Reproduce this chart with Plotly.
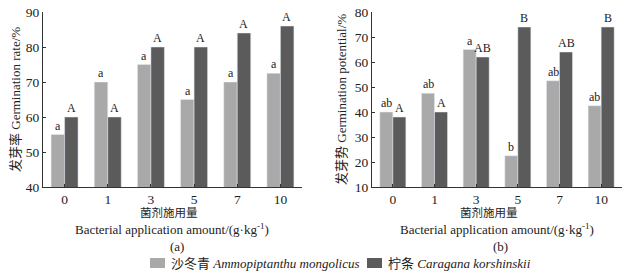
import plotly.graph_objects as go

categories = ["0", "1", "3", "5", "7", "10"]
rate_amm = [55, 70, 75, 65, 70, 72.5]
rate_car = [60, 60, 80, 80, 84, 86]
rate_amm_lbl = ["a", "a", "a", "a", "a", "a"]
rate_car_lbl = ["A", "A", "A", "A", "A", "A"]
pot_amm = [40, 47.5, 65, 22.5, 52.5, 42.5]
pot_car = [38, 40, 62, 74, 64, 74]
pot_amm_lbl = ["ab", "ab", "a", "b", "ab", "ab"]
pot_car_lbl = ["A", "A", "AB", "B", "AB", "B"]

LIGHT = "#a9a9a9"
DARK = "#5b5b5b"
FONT = "Liberation Serif, Times New Roman, Noto Sans CJK SC, serif"
W, H = 638, 275
TOP, BOT = 12, 187

fig = go.Figure()
fig.add_trace(go.Bar(x=categories, y=rate_amm, marker_color=LIGHT, xaxis="x", yaxis="y", showlegend=False))
fig.add_trace(go.Bar(x=categories, y=rate_car, marker_color=DARK, xaxis="x", yaxis="y", showlegend=False))
fig.add_trace(go.Bar(x=categories, y=pot_amm, marker_color=LIGHT, xaxis="x2", yaxis="y2", showlegend=False))
fig.add_trace(go.Bar(x=categories, y=pot_car, marker_color=DARK, xaxis="x2", yaxis="y2", showlegend=False))

ann = []
def letters(xref, yref, vals, lbls, shift):
    for i, (v, l) in enumerate(zip(vals, lbls)):
        ann.append(dict(x=i, y=v, xref=xref, yref=yref, text=l, showarrow=False,
                        yanchor="bottom", xshift=shift, yshift=0,
                        font=dict(family=FONT, size=12, color="#222")))

letters("x", "y", rate_amm, rate_amm_lbl, -6.5)
letters("x", "y", rate_car, rate_car_lbl, 6.5)
letters("x2", "y2", pot_amm, pot_amm_lbl, -6.5)
letters("x2", "y2", pot_car, pot_car_lbl, 6.5)

def px_x(p):
    return p / W
def px_y(p):
    return (BOT - p) / (BOT - TOP)

def text_at(x, y, t, size=13, angle=0):
    ann.append(dict(x=px_x(x), y=px_y(y), xref="paper", yref="paper", text=t,
                    showarrow=False, xanchor="center", yanchor="middle", textangle=angle,
                    font=dict(family=FONT, size=size, color="#222")))

text_at(15, 100, "发芽率 Germination rate/%", 13, -90)
text_at(341, 100, "发芽势 Germination potential/%", 13, -90)
text_at(169, 212, "菌剂施用量", 11.5)
text_at(172, 229, "Bacterial application amount/(g·kg<sup>-1</sup>)", 13)
text_at(177, 246, "(a)", 13)
text_at(489, 212, "菌剂施用量", 11.5)
text_at(497, 229, "Bacterial application amount/(g·kg<sup>-1</sup>)", 13)
text_at(500, 246, "(b)", 13)

# manual legend
shapes = []
for x0, col in [(150, LIGHT), (367, DARK)]:
    shapes.append(dict(type="rect", xref="paper", yref="paper",
                       x0=px_x(x0), x1=px_x(x0 + 15), y0=px_y(268), y1=px_y(258),
                       fillcolor=col, line=dict(width=0)))
for x0, t in [(169, "沙冬青 <i>Ammopiptanthu mongolicus</i>"), (386, "柠条 <i>Caragana korshinskii</i>")]:
    ann.append(dict(x=px_x(x0), y=px_y(263), xref="paper", yref="paper", text=t,
                    showarrow=False, xanchor="left", yanchor="middle",
                    font=dict(family=FONT, size=13, color="#222")))

axis_common = dict(showline=True, linecolor="#333", linewidth=1, ticks="inside",
                   ticklen=3, tickcolor="#333", showgrid=False, zeroline=False,
                   automargin=False,
                   tickfont=dict(family=FONT, size=13.5, color="#222"))

fig.update_layout(
    width=W, height=H, margin=dict(l=0, r=0, t=TOP, b=H - BOT),
    paper_bgcolor="white", plot_bgcolor="white",
    barmode="group", bargap=0.375, bargroupgap=0,
    xaxis=dict(domain=[px_x(43), px_x(302)], anchor="y", type="category",
               range=[-0.5, 5.5], **axis_common),
    yaxis=dict(domain=[0, 1], anchor="x", range=[40, 90], dtick=10, **axis_common),
    xaxis2=dict(domain=[px_x(372), px_x(622)], anchor="y2", type="category",
                range=[-0.5, 5.5], **axis_common),
    yaxis2=dict(domain=[0, 1], anchor="x2", range=[10, 80], dtick=10, **axis_common),
    annotations=ann, shapes=shapes,
)

fig.write_html("out.html", config={"displayModeBar": False},
               post_script="document.body.style.margin='0';")
